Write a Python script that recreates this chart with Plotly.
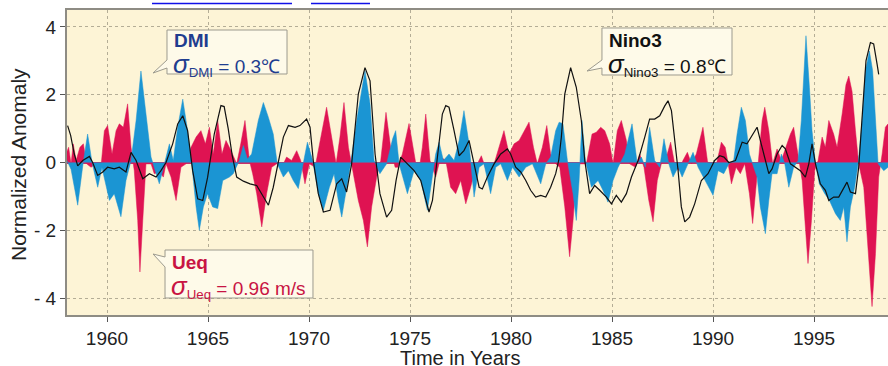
import plotly.graph_objects as go

# normalized anomalies (DMI blue, Ueq red, Nino3 black line)
dmi_year = [
    1957.98, 1958.22, 1958.55, 1958.80, 1959.04, 1959.26, 1959.54, 1959.75, 1960.12, 1960.36,
    1960.69, 1960.94, 1961.19, 1961.44, 1961.68, 1961.93, 1962.18, 1962.59, 1962.84, 1963.09,
    1963.28, 1963.50, 1963.75, 1963.99, 1964.21, 1964.41, 1964.57, 1964.77, 1964.98, 1965.23,
    1965.48, 1965.73, 1966.06, 1966.25, 1966.55, 1966.75, 1966.95, 1967.16, 1967.49, 1967.74,
    1967.99, 1968.23, 1968.43, 1968.73, 1968.98, 1969.22, 1969.47, 1969.69, 1969.92, 1970.18,
    1970.46, 1970.71, 1971.01, 1971.24, 1971.45, 1971.62, 1971.86, 1972.06, 1972.36, 1972.61,
    1972.77, 1973.02, 1973.22, 1973.51, 1973.84, 1974.14, 1974.29, 1974.46, 1974.87, 1975.20,
    1975.53, 1975.86, 1976.11, 1976.27, 1976.44, 1976.65, 1976.93, 1977.18, 1977.43, 1977.67,
    1977.92, 1978.17, 1978.42, 1978.66, 1978.99, 1979.24, 1979.49, 1979.82, 1980.07, 1980.40,
    1980.73, 1981.06, 1981.47, 1981.72, 1981.96, 1982.21, 1982.38, 1982.57, 1982.79, 1983.07,
    1983.23, 1983.37, 1983.51, 1983.68, 1983.98, 1984.31, 1984.55, 1984.80, 1985.05, 1985.30,
    1985.63, 1985.99, 1986.25, 1986.45, 1986.65, 1986.86, 1987.11, 1987.36, 1987.57, 1987.81,
    1988.02, 1988.27, 1988.47, 1988.76, 1989.01, 1989.26, 1989.59, 1990.00, 1990.25, 1990.53,
    1990.78, 1991.02, 1991.19, 1991.40, 1991.60, 1991.80, 1992.01, 1992.18, 1992.34, 1992.59,
    1992.76, 1992.92, 1993.17, 1993.38, 1993.55, 1993.75, 1993.99, 1994.21, 1994.37, 1994.49,
    1994.60, 1994.77, 1994.90, 1995.07, 1995.26, 1995.53, 1995.76, 1996.06, 1996.30, 1996.47,
    1996.63, 1996.80, 1997.01, 1997.18, 1997.38, 1997.54, 1997.74, 1997.90, 1998.04, 1998.17,
    1998.45, 1998.66,
]
dmi_val = [
    0.10, -0.20, -1.26, -0.10, 0.84, 0.00, -0.73, -0.15, -1.12, -0.92,
    -1.60, -0.53, 0.06, 1.24, 2.70, 1.43, 0.16, -0.63, -0.04, 0.55,
    0.06, 1.04, 1.87, 0.94, -0.14, -1.31, -2.00, -1.31, -0.92, -1.31,
    -1.36, -0.53, -0.43, -0.33, 0.06, 0.50, 0.10, 0.25, 1.24, 1.77,
    1.33, 0.84, -0.04, -0.43, -0.24, -0.53, -0.77, -0.04, 0.60, 0.06,
    -0.92, -1.41, -0.73, -0.33, -1.12, -1.61, -0.73, -0.04, 1.24, 2.22,
    2.71, 1.73, 0.06, -0.33, -0.04, 0.70, 0.94, -0.04, -0.92, -0.24,
    -0.53, -1.41, -0.33, 0.25, 0.60, 0.06, 0.25, 0.06, 0.65, 1.53,
    0.55, -1.02, -0.14, -0.04, -0.92, -0.14, -0.04, -0.53, -0.14, -0.43,
    -0.14, -0.04, -0.63, -0.04, 0.16, 0.94, 1.19, 1.14, 0.06, -0.92,
    -1.71, -0.53, 1.24, 0.06, -0.73, -0.53, -0.82, -1.17, -0.53, -0.14,
    0.25, 1.14, -0.04, 0.16, -0.14, 1.04, 0.06, -0.14, 0.70, -0.04,
    -0.43, -0.14, -0.43, -0.04, 0.30, -0.14, -0.53, -0.97, -0.24, -0.33,
    -0.04, 0.06, 0.84, 1.63, 1.24, 0.25, -0.14, -0.43, -1.31, -2.10,
    -1.12, -0.33, -0.33, 0.25, -0.04, -0.73, -0.14, 0.06, 1.24, 2.71,
    3.74, 2.22, 0.94, -0.04, -0.63, -0.92, -1.12, -1.51, -1.71, -1.31,
    -2.34, -1.31, -0.73, -0.04, 1.24, 2.71, 3.29, 2.71, 1.43, -0.04,
    -0.24, -0.14,
]

ueq_year = [
    1957.97, 1958.10, 1958.22, 1958.33, 1958.47, 1958.66, 1958.83, 1958.99, 1959.21, 1959.46,
    1959.70, 1959.87, 1960.03, 1960.25, 1960.45, 1960.61, 1960.81, 1961.02, 1961.19, 1961.35,
    1961.52, 1961.63, 1961.77, 1961.93, 1962.18, 1962.34, 1962.59, 1962.79, 1962.92, 1963.17,
    1963.42, 1963.66, 1963.91, 1964.16, 1964.41, 1964.65, 1964.87, 1965.07, 1965.26, 1965.48,
    1965.69, 1965.89, 1966.14, 1966.42, 1966.62, 1966.83, 1967.05, 1967.21, 1967.41, 1967.66,
    1967.90, 1968.15, 1968.40, 1968.65, 1968.89, 1969.14, 1969.39, 1969.59, 1969.80, 1970.02,
    1970.30, 1970.63, 1970.87, 1971.12, 1971.34, 1971.53, 1971.73, 1971.95, 1972.16, 1972.44,
    1972.69, 1972.89, 1973.10, 1973.35, 1973.55, 1973.81, 1974.04, 1974.26, 1974.40, 1974.62,
    1974.95, 1975.20, 1975.40, 1975.61, 1975.78, 1975.99, 1976.27, 1976.52, 1976.77, 1977.01,
    1977.26, 1977.51, 1977.76, 1978.00, 1978.25, 1978.53, 1978.83, 1979.16, 1979.41, 1979.65,
    1979.90, 1980.15, 1980.40, 1980.68, 1980.89, 1981.11, 1981.30, 1981.55, 1981.77, 1981.96,
    1982.21, 1982.41, 1982.66, 1982.90, 1983.07, 1983.23, 1983.40, 1983.73, 1983.89, 1984.01,
    1984.22, 1984.44, 1984.64, 1984.88, 1985.05, 1985.26, 1985.46, 1985.71, 1985.87, 1986.16,
    1986.37, 1986.58, 1986.82, 1987.03, 1987.24, 1987.44, 1987.69, 1987.90, 1988.10, 1988.30,
    1988.51, 1988.73, 1988.93, 1989.17, 1989.50, 1989.72, 1989.95, 1990.17, 1990.41, 1990.60,
    1990.72, 1990.91, 1991.14, 1991.35, 1991.57, 1991.80, 1991.96, 1992.13, 1992.26, 1992.43,
    1992.56, 1992.76, 1992.95, 1993.17, 1993.38, 1993.61, 1993.83, 1993.99, 1994.21, 1994.41,
    1994.57, 1994.70, 1994.87, 1995.03, 1995.20, 1995.40, 1995.56, 1995.73, 1995.97, 1996.14,
    1996.39, 1996.58, 1996.72, 1996.88, 1997.05, 1997.21, 1997.46, 1997.71, 1997.87, 1998.04,
    1998.20, 1998.37, 1998.53, 1998.66,
]
ueq_val = [
    0.25, 0.45, -0.04, 0.55, 0.06, 0.45, 0.55, -0.04, -0.14, -0.04,
    -0.14, 0.94, 1.09, 0.25, 0.94, 1.14, 1.04, 1.73, 0.45, -0.24,
    -1.71, -3.23, -1.71, -0.04, -0.04, -0.33, -0.28, -0.43, -0.04, -0.43,
    -1.12, -0.14, -0.04, 0.45, 0.75, 0.94, 0.55, 1.04, 0.25, 1.24,
    0.25, 0.65, 0.35, -0.04, 0.55, 1.24, 0.06, -0.33, -0.92, -1.90,
    -0.92, -0.14, -0.04, -0.14, 0.16, 0.06, 0.35, 0.06, -0.63, -0.04,
    -0.14, 0.94, 1.63, 0.75, -0.04, 0.75, 1.77, 0.45, -0.24, -1.12,
    -1.71, -2.49, -1.31, -0.43, 0.06, 1.48, 0.45, -0.14, -0.14, 0.25,
    1.15, 0.25, -0.43, 0.45, 1.43, 0.06, -0.43, 0.16, 0.06, -0.73,
    -0.92, -0.53, -1.22, -0.73, -0.14, 0.20, -0.33, -0.04, 0.45, 0.94,
    0.25, 0.55, 0.65, 0.94, 1.19, 0.45, -0.04, 0.45, 1.09, 0.25,
    -0.04, -0.14, -1.31, -2.78, -1.71, -0.43, -0.04, -0.04, 0.45, 0.84,
    0.89, 1.04, 0.94, 0.55, -0.04, 0.94, 1.24, 0.65, -0.04, -0.14,
    0.25, -0.14, -1.12, -1.75, -0.53, -0.04, 0.16, 0.60, -0.04, -0.24,
    0.06, 0.30, -0.04, 0.25, 1.04, 0.06, -0.53, -0.04, 0.60, 0.45,
    0.06, -0.63, -0.14, -0.33, -0.04, -0.92, -1.80, -0.73, 0.25, 1.24,
    1.63, 0.94, -0.04, 0.40, 0.06, 0.45, 0.84, 1.04, 0.25, -0.53,
    -1.90, -2.98, -1.71, -0.24, 0.06, 0.75, 0.45, 1.24, 0.84, 0.45,
    1.43, 2.30, 2.55, 2.10, 0.94, -0.04, -0.73, -2.88, -4.25, -2.69,
    -0.43, 0.25, 1.04, 1.14,
]

nino_year = [
    1958.05, 1958.20, 1958.38, 1958.55, 1958.80, 1959.13, 1959.29, 1959.54, 1959.79, 1960.03,
    1960.36, 1960.61, 1960.94, 1961.19, 1961.44, 1961.77, 1962.10, 1962.43, 1962.67, 1962.92,
    1963.25, 1963.50, 1963.75, 1963.99, 1964.24, 1964.49, 1964.74, 1964.98, 1965.31, 1965.64,
    1965.80, 1966.00, 1966.20, 1966.42, 1966.75, 1967.08, 1967.41, 1967.74, 1967.99, 1968.23,
    1968.48, 1968.73, 1968.98, 1969.31, 1969.55, 1969.88, 1970.05, 1970.21, 1970.46, 1970.71,
    1971.04, 1971.37, 1971.62, 1971.86, 1972.11, 1972.44, 1972.77, 1973.02, 1973.27, 1973.51,
    1973.84, 1974.09, 1974.31, 1974.54, 1974.87, 1975.20, 1975.53, 1975.78, 1975.94, 1976.11,
    1976.35, 1976.60, 1976.77, 1976.93, 1977.18, 1977.43, 1977.67, 1977.92, 1978.17, 1978.42,
    1978.58, 1978.83, 1979.16, 1979.49, 1979.82, 1979.98, 1980.23, 1980.48, 1980.73, 1980.97,
    1981.22, 1981.47, 1981.72, 1981.96, 1982.21, 1982.36, 1982.49, 1982.66, 1982.95, 1983.23,
    1983.48, 1983.65, 1983.89, 1984.14, 1984.39, 1984.72, 1984.97, 1985.21, 1985.46, 1985.71,
    1985.96, 1986.29, 1986.62, 1986.86, 1987.11, 1987.36, 1987.61, 1987.77, 1987.94, 1988.10,
    1988.27, 1988.43, 1988.60, 1988.84, 1989.09, 1989.42, 1989.75, 1990.08, 1990.33, 1990.54,
    1990.78, 1991.11, 1991.44, 1991.68, 1991.93, 1992.18, 1992.34, 1992.59, 1992.76, 1992.92,
    1993.17, 1993.42, 1993.58, 1993.83, 1994.08, 1994.32, 1994.57, 1994.74, 1994.90, 1995.07,
    1995.31, 1995.56, 1995.73, 1995.97, 1996.22, 1996.47, 1996.63, 1996.80, 1997.05, 1997.21,
    1997.38, 1997.57, 1997.79, 1997.95, 1998.12, 1998.20,
]
nino_val = [
    1.09, 0.80, 0.25, -0.10, 0.06, 0.18, 0.00, -0.38, -0.28, -0.14,
    -0.19, -0.14, -0.28, 0.30, 0.06, -0.48, -0.33, -0.43, -0.24, 0.00,
    0.55, 1.14, 1.38, 0.94, -0.24, -1.07, -1.12, -0.44, 0.84, 1.68,
    1.65, 1.00, 0.20, -0.43, -0.55, -0.63, -0.68, -1.02, -1.26, -0.73,
    0.06, 0.75, 1.09, 1.04, 1.09, 1.28, 1.04, 0.06, -0.92, -1.46,
    -1.41, -0.63, -0.48, -0.87, -0.04, 2.02, 2.80, 2.41, 0.25, -0.92,
    -1.61, -1.41, -0.53, 0.16, -0.04, -0.24, -0.53, -1.12, -1.46, -1.12,
    0.16, 1.43, 1.68, 1.63, 0.94, 0.20, 0.35, 0.65, -0.04, -0.73,
    -0.78, -0.43, -0.04, 0.25, 0.40, 0.25, -0.14, -0.28, -0.53, -0.82,
    -1.02, -0.97, -1.02, -0.73, -0.33, 0.06, 0.75, 2.02, 2.80, 2.22,
    1.24, 0.06, -0.92, -0.68, -0.82, -1.02, -1.22, -0.97, -1.17, -0.92,
    -0.43, 0.06, 0.75, 1.28, 1.28, 1.38, 1.67, 1.82, 1.53, 0.75,
    -0.24, -1.31, -1.75, -1.61, -1.22, -0.53, -0.33, 0.06, 0.20, 0.16,
    0.00, 0.06, 0.60, 0.55, 0.79, 1.04, 0.65, 0.06, -0.33, -0.19,
    0.25, 0.50, 0.40, -0.04, -0.14, -0.24, -0.43, -0.04, 0.55, -0.04,
    -0.63, -0.82, -1.12, -1.02, -1.02, -0.77, -0.58, -0.87, -0.92, -0.14,
    1.43, 3.00, 3.54, 3.50, 2.90, 2.60,
]

x_ticks = [1960, 1965, 1970, 1975, 1980, 1985, 1990, 1995]
y_ticks = [-4, -2, 0, 2, 4]
y_tick_text = ["- 4", "- 2", "0", "2", "4"]

BLUE = "#1b95d3"
RED = "#df1352"
FONT = "Liberation Sans, Arial, Helvetica, sans-serif"

# plot area in pixels, used to place the callout boxes
L, R, T, B = 67, 888, 10, 315


def px(x):
    return (x - L) / (R - L)


def py(y):
    return (B - y) / (B - T)


def callout(pts):
    return "M " + " L ".join(f"{px(a):.4f},{py(b):.4f}" for a, b in pts) + " Z"


fig = go.Figure()
fig.add_trace(go.Scatter(x=ueq_year, y=ueq_val, mode="lines", fill="tozeroy",
                         line=dict(color=RED, width=0.5), fillcolor=RED, hoverinfo="skip"))
fig.add_trace(go.Scatter(x=dmi_year, y=dmi_val, mode="lines", fill="tozeroy",
                         line=dict(color=BLUE, width=0.5), fillcolor=BLUE, hoverinfo="skip"))
fig.add_trace(go.Scatter(x=nino_year, y=nino_val, mode="lines",
                         line=dict(color="#111111", width=1.2), hoverinfo="skip"))

box_style = dict(type="path", xref="paper", yref="paper", layer="above",
                 line=dict(color="#9c9a8e", width=1), fillcolor="#fefae9")
shapes = [
    dict(path=callout([(167, 30), (287, 30), (287, 74), (167, 74), (167, 68), (153, 73), (167, 60)]), **box_style),
    dict(path=callout([(602, 28), (732, 28), (732, 75), (602, 75), (602, 68), (587, 71), (602, 60)]), **box_style),
    dict(path=callout([(165, 250), (313, 250), (313, 298), (165, 298), (165, 267), (153, 254), (165, 257)]), **box_style),
    # clipped link underlines above the chart
    dict(type="line", xref="paper", yref="paper", x0=px(152), x1=px(292), y0=py(3.5), y1=py(3.5),
         line=dict(color="#1010e8", width=1.5)),
    dict(type="line", xref="paper", yref="paper", x0=px(311), x1=px(370), y0=py(3.5), y1=py(3.5),
         line=dict(color="#1010e8", width=1.5)),
]


def label(x, y, text, color, size=19):
    return dict(xref="paper", yref="paper", x=px(x), y=py(y), xanchor="left", yanchor="middle",
                text=text, showarrow=False, font=dict(family=FONT, size=size, color=color))


SIG = '<span style="font-size:26px;font-style:italic">σ</span>'
annotations = [
    label(172, 40, "<b>DMI</b>", "#1f3d8f"),
    label(171, 64, SIG + "<sub>DMI</sub> = 0.3℃", "#1f3d8f"),
    label(607, 40, "<b>Nino3</b>", "#111111"),
    label(606, 64, SIG + "<sub>Nino3</sub> = 0.8℃", "#111111"),
    label(170, 262, "<b>Ueq</b>", "#c81443"),
    label(169, 286, SIG + "<sub>Ueq</sub> = 0.96 m/s", "#c81443"),
    dict(xref="paper", yref="paper", x=px(460), y=py(357.5), xanchor="center", yanchor="middle",
         text="Time in Years", showarrow=False, font=dict(family=FONT, size=20, color="#222222")),
    dict(xref="paper", yref="paper", x=px(18), y=py(165), xanchor="center", yanchor="middle",
         text="Normalized Anomaly", textangle=-90, showarrow=False,
         font=dict(family=FONT, size=21, color="#222222")),
]

fig.update_layout(
    width=888, height=366,
    margin=dict(l=L, r=888 - R, t=T, b=366 - B, pad=0),
    paper_bgcolor="white",
    plot_bgcolor="#fdf4d6",
    showlegend=False,
    font=dict(family=FONT, size=19, color="#222222"),
    shapes=shapes,
    annotations=annotations,
)
fig.update_xaxes(range=[1958.02, 1998.66], tickvals=x_ticks, ticks="outside", ticklen=5,
                 tickcolor="#555555", showline=True, linecolor="#8e8c84", linewidth=2, mirror=True,
                 showgrid=True, gridcolor="#b4ad96", griddash="dot", gridwidth=1, zeroline=False,
                 tickfont=dict(size=19))
fig.update_yaxes(range=[-4.5, 4.5], tickvals=y_ticks, ticktext=y_tick_text, ticks="outside", ticklen=5,
                 tickcolor="#555555", showline=True, linecolor="#8e8c84", linewidth=2,
                 showgrid=True, gridcolor="#b4ad96", griddash="dot", gridwidth=1,
                 zeroline=True, zerolinecolor="#c8306a", zerolinewidth=2, tickfont=dict(size=19))

# the page body has a default 8px margin; drop it so the 888x366 figure fills the window
fig.write_html("out.html", config={"displayModeBar": False},
               post_script="document.body.style.margin='0';")
